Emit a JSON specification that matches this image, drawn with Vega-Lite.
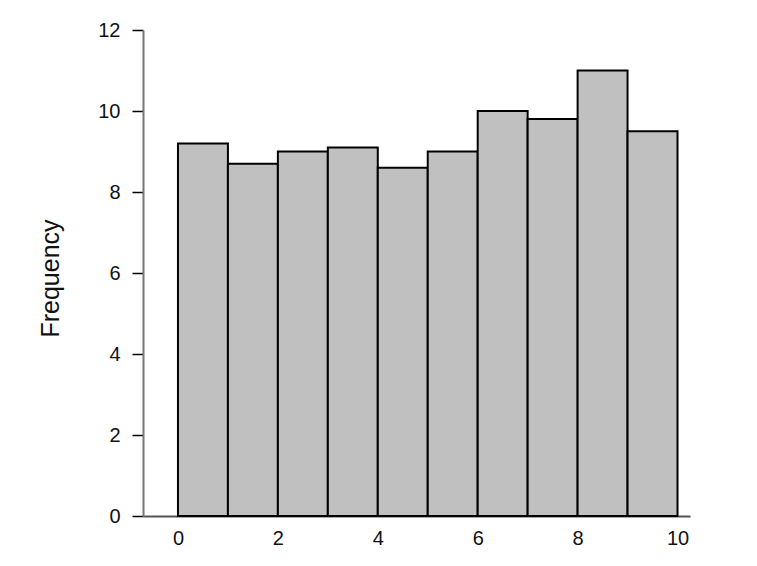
{
  "$schema": "https://vega.github.io/schema/vega-lite/v6.json",
  "autosize": "none",
  "width": 547,
  "height": 486,
  "padding": {"left": 143, "top": 30, "right": 67, "bottom": 50},
  "background": "white",
  "config": {
    "view": {"stroke": null},
    "font": "Liberation Sans",
    "axis": {"grid": false}
  },
  "data": {
    "values": [
      {"bin_start": 0, "bin_end": 1, "frequency": 9.2},
      {"bin_start": 1, "bin_end": 2, "frequency": 8.7},
      {"bin_start": 2, "bin_end": 3, "frequency": 9.0},
      {"bin_start": 3, "bin_end": 4, "frequency": 9.1},
      {"bin_start": 4, "bin_end": 5, "frequency": 8.6},
      {"bin_start": 5, "bin_end": 6, "frequency": 9.0},
      {"bin_start": 6, "bin_end": 7, "frequency": 10.0},
      {"bin_start": 7, "bin_end": 8, "frequency": 9.8},
      {"bin_start": 8, "bin_end": 9, "frequency": 11.0},
      {"bin_start": 9, "bin_end": 10, "frequency": 9.5}
    ]
  },
  "mark": {"type": "rect", "fill": "#c0c0c0", "stroke": "#000", "strokeWidth": 2},
  "encoding": {
    "x": {
      "field": "bin_start",
      "type": "quantitative",
      "scale": {"domain": [-0.7, 10.25], "nice": false, "zero": false},
      "axis": {
        "title": null,
        "values": [0, 2, 4, 6, 8, 10],
        "ticks": false,
        "labelFont": "Liberation Sans",
        "labelFontSize": 20,
        "labelColor": "#111",
        "labelPadding": 12,
        "domainColor": "#555",
        "domainWidth": 2,
        "labelFlush": false
      }
    },
    "x2": {"field": "bin_end"},
    "y": {
      "field": "frequency",
      "type": "quantitative",
      "scale": {"domain": [0, 12], "nice": false},
      "axis": {
        "title": "Frequency",
        "titleFont": "Liberation Sans",
        "titleFontSize": 25,
        "titleFontWeight": "normal",
        "titleColor": "#111",
        "titleX": -93,
        "titleY": 248,
        "titleAngle": -90,
        "titleBaseline": "middle",
        "values": [0, 2, 4, 6, 8, 10, 12],
        "labelFont": "Liberation Sans",
        "labelFontSize": 20,
        "labelColor": "#111",
        "tickSize": 11,
        "tickColor": "#000",
        "tickWidth": 1.5,
        "domainColor": "#777",
        "domainWidth": 2,
        "labelPadding": 12
      }
    }
  }
}
